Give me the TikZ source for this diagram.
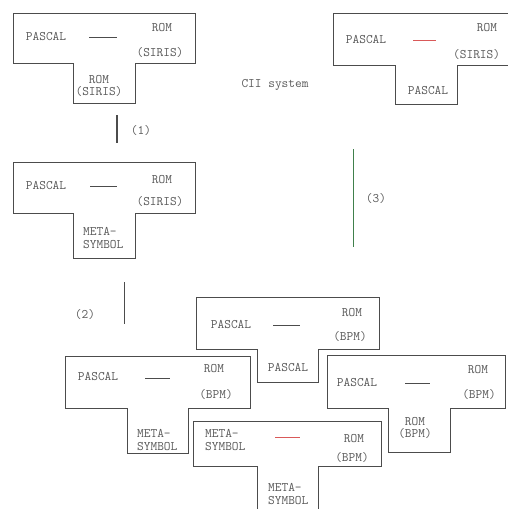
\documentclass[tikz,border=0pt]{standalone}
\usepackage{tikz}
\usetikzlibrary{arrows.meta,positioning}
\usepackage{xcolor}
\definecolor{inkline}{gray}{0.3}
\definecolor{inktext}{gray}{0.35}
\definecolor{inkgreen}{rgb}{0.25,0.5,0.3}
\definecolor{inkred}{rgb}{0.85,0.35,0.35}
% T outline: left, top, right, bar bottom, stem left, stem right, stem bottom
\newcommand{\tdiagram}[8][]{%
  \draw[tline,#1] (#2,#3) -- (#4,#3) -- (#4,#5) -- (#7,#5) -- (#7,#8)
    -- (#6,#8) -- (#6,#5) -- (#2,#5) -- cycle;}

\begin{document}
\begin{tikzpicture}[x=1pt,y=-1pt,
  tline/.style={draw=inkline,line width=0.7pt},
  rdash/.style={draw=inkred,line width=1pt},
  lbl/.style={font=\fontsize{13}{12.5}\selectfont\ttfamily,text=inktext,inner sep=0pt}]
  \clip (0,0) rectangle (508,509);

  % CII compiler on SIRIS
  \tdiagram{13}{13}{195}{63}{73}{135}{103}
  \node[lbl] (pasA) at (46,37) {PASCAL};
  \draw[tline] (89,37) -- (117,37);
  \node[lbl] (romA) at (162,28) {ROM};
  \node[lbl] (sirA) at (160,53) {(SIRIS)};
  \node[lbl,align=center] (stemA) at (99,86) {ROM\\(SIRIS)};

  \node[lbl] (cii) at (275,85) {CII system};

  % compiler written in PASCAL
  \tdiagram{333}{13}{540}{65}{395}{457}{104}
  \node[lbl] (pasB) at (366,40) {PASCAL};
  \draw[rdash] (413,40) -- (436,40);
  \node[lbl] (romB) at (487,28) {ROM};
  \node[lbl,anchor=west] (sirB) at (453,55) {(SIRIS)};
  \node[lbl] (stemB) at (428,91) {PASCAL};

  % step (1)
  \coordinate (oneT) at (117,115);
  \coordinate (oneB) at (117,143);
  \draw[inkline,line width=1.2pt] (oneT) -- (oneB);
  \node[lbl] (one) at (141,131) {(1)};

  % compiler on META-SYMBOL
  \tdiagram{13}{162}{195}{213}{73}{135}{258}
  \node[lbl] (pasC) at (46,186) {PASCAL};
  \draw[tline] (90,186) -- (117,186);
  \node[lbl] (romC) at (162,180) {ROM};
  \node[lbl] (sirC) at (160,202) {(SIRIS)};
  \node[lbl,align=left,anchor=west] (stemC) at (83,238) {META-\\SYMBOL};

  % step (2)
  \coordinate (twoT) at (124,282);
  \coordinate (twoB) at (124,324);
  \draw[inkline,line width=0.7pt] (twoT) -- (twoB);
  \node[lbl] (two) at (85,315) {(2)};

  % step (3)
  \coordinate (threeT) at (353,149);
  \coordinate (threeB) at (353,247);
  \draw[inkgreen,line width=1pt] (threeT) -- (threeB);
  \node[lbl] (three) at (376,199) {(3)};

  % BPM compiler in PASCAL
  \tdiagram{196}{297}{379}{349}{257}{318}{382}
  \node[lbl] (pasD) at (231,325) {PASCAL};
  \draw[tline] (273,325) -- (300,325);
  \node[lbl] (romD) at (352,313) {ROM};
  \node[lbl] (bpmD) at (350,337) {(BPM)};
  \node[lbl] (stemD) at (288,368) {PASCAL};

  % BPM compiler in META-SYMBOL
  \tdiagram{65}{356}{250}{408}{127}{188}{453}
  \node[lbl] (pasE) at (98,377) {PASCAL};
  \draw[tline] (145,378) -- (170,378);
  \node[lbl] (romE) at (214,369) {ROM};
  \node[lbl] (bpmE) at (216,395) {(BPM)};
  \node[lbl,align=left,anchor=west] (stemE) at (137,440) {META-\\SYMBOL};

  % META-SYMBOL on BPM
  \tdiagram{193}{421}{381}{466}{257}{318}{520}
  \node[lbl,align=left,anchor=west] (metF) at (205,440) {META-\\SYMBOL};
  \draw[rdash] (275,437) -- (300,437);
  \node[lbl] (romF) at (354,439) {ROM};
  \node[lbl] (bpmF) at (352,458) {(BPM)};
  \node[lbl,align=left,anchor=west] (stemF) at (268,494) {META-\\SYMBOL};

  % BPM compiler on BPM
  \tdiagram{327}{355}{505}{408}{388}{450}{452}
  \node[lbl] (pasG) at (357,383) {PASCAL};
  \draw[tline] (405,383) -- (430,383);
  \node[lbl] (romG) at (478,370) {ROM};
  \node[lbl] (bpmG) at (479,395) {(BPM)};
  \node[lbl,align=center] (stemG) at (415,428) {ROM\\(BPM)};
\end{tikzpicture}
\end{document}
